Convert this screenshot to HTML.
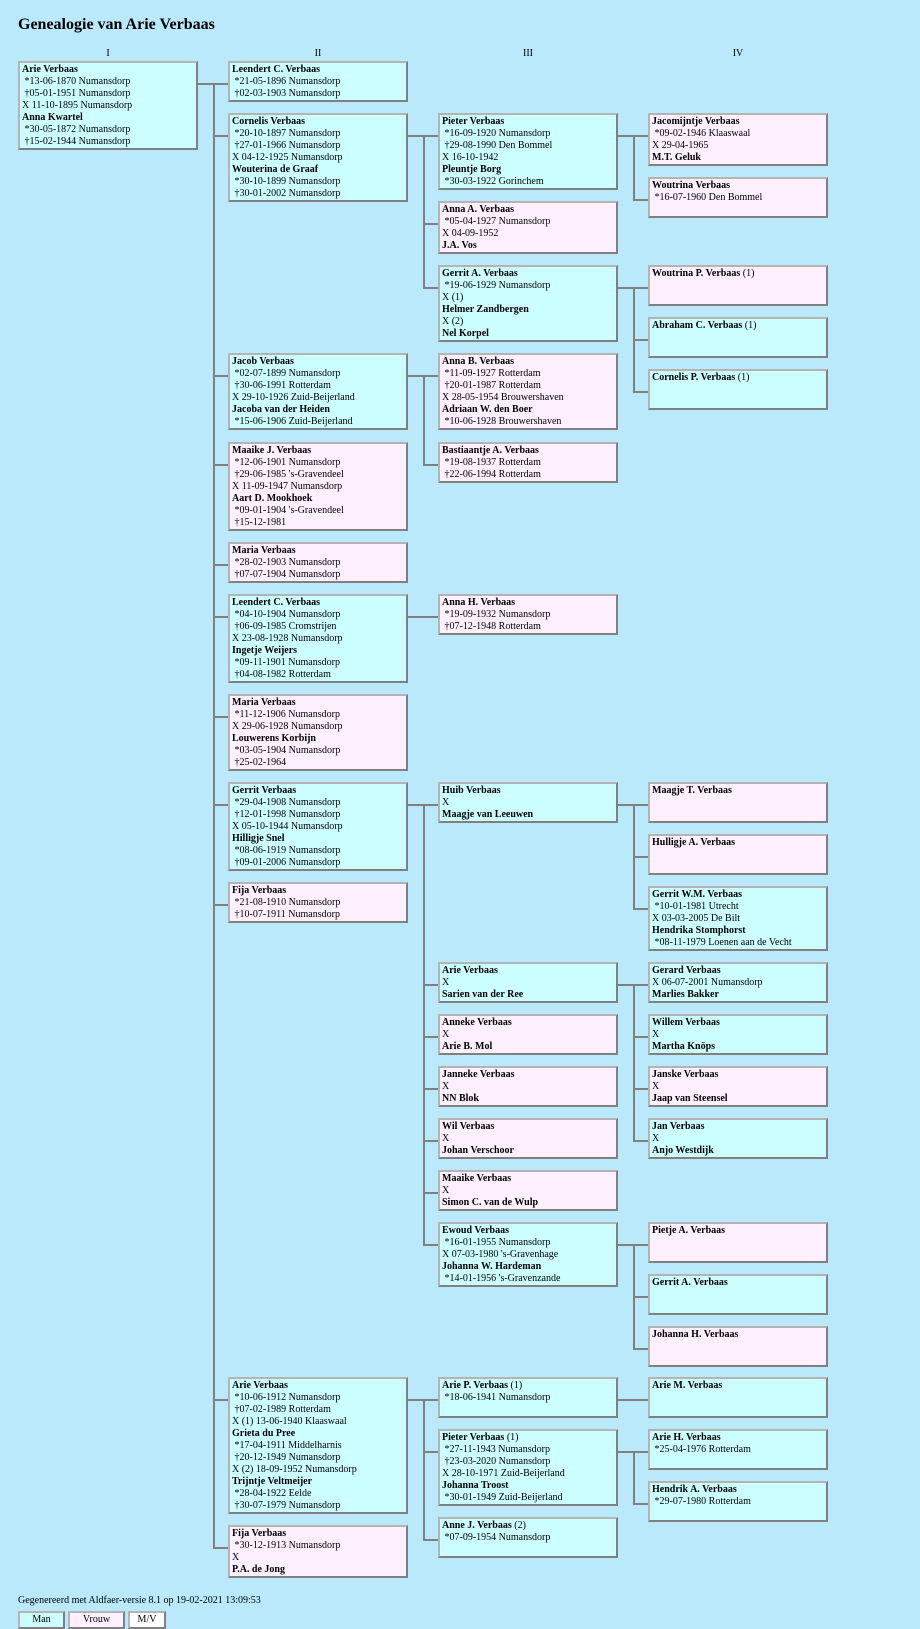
<!DOCTYPE html>
<html><head><meta charset="utf-8">
<style>
html,body{margin:0;padding:0}
body{width:920px;height:1629px;background:#b9e9fb;position:relative;overflow:hidden;font:10px/12px "Liberation Serif",serif;color:#000}
.t{position:absolute;left:18px;top:16px;font:bold 16px "Liberation Serif",serif}
.c{position:absolute;top:48px;width:180px;text-align:center}
.b{position:absolute;width:180px;box-sizing:border-box;border:2px solid;border-color:#b4b4b4 #808080 #808080 #b4b4b4;padding:1px 2px 0 2px;white-space:nowrap;overflow:hidden}
.m{background:#ccffff}.w{background:#fff0ff}
.b b{font-weight:bold}
.h{position:absolute;height:2px;background:#808080}
.l{position:absolute;width:2px;background:#808080}
.ft{position:absolute;left:18px;top:1595px}
.lg{position:absolute;top:1611px;height:18px;box-sizing:border-box;border:2px solid;border-color:#b4b4b4 #808080 #808080 #b4b4b4;text-align:center;line-height:13px}
</style></head><body>
<div class="t">Genealogie van Arie Verbaas</div>
<div class="c" style="left:18px">I</div>
<div class="c" style="left:228px">II</div>
<div class="c" style="left:438px">III</div>
<div class="c" style="left:648px">IV</div>

<!-- Col I -->
<div class="b m" style="left:18px;top:61px;height:89px"><b>Arie Verbaas</b><br>&nbsp;*13-06-1870 Numansdorp<br>&nbsp;†05-01-1951 Numansdorp<br>X 11-10-1895 Numansdorp<br><b>Anna Kwartel</b><br>&nbsp;*30-05-1872 Numansdorp<br>&nbsp;†15-02-1944 Numansdorp</div>

<!-- Col II -->
<div class="b m" style="left:228px;top:61px;height:41px"><b>Leendert C. Verbaas</b><br>&nbsp;*21-05-1896 Numansdorp<br>&nbsp;†02-03-1903 Numansdorp</div>
<div class="b m" style="left:228px;top:113px;height:89px"><b>Cornelis Verbaas</b><br>&nbsp;*20-10-1897 Numansdorp<br>&nbsp;†27-01-1966 Numansdorp<br>X 04-12-1925 Numansdorp<br><b>Wouterina de Graaf</b><br>&nbsp;*30-10-1899 Numansdorp<br>&nbsp;†30-01-2002 Numansdorp</div>
<div class="b m" style="left:228px;top:353px;height:77px"><b>Jacob Verbaas</b><br>&nbsp;*02-07-1899 Numansdorp<br>&nbsp;†30-06-1991 Rotterdam<br>X 29-10-1926 Zuid-Beijerland<br><b>Jacoba van der Heiden</b><br>&nbsp;*15-06-1906 Zuid-Beijerland</div>
<div class="b w" style="left:228px;top:442px;height:89px"><b>Maaike J. Verbaas</b><br>&nbsp;*12-06-1901 Numansdorp<br>&nbsp;†29-06-1985 's-Gravendeel<br>X 11-09-1947 Numansdorp<br><b>Aart D. Mookhoek</b><br>&nbsp;*09-01-1904 's-Gravendeel<br>&nbsp;†15-12-1981</div>
<div class="b w" style="left:228px;top:542px;height:41px"><b>Maria Verbaas</b><br>&nbsp;*28-02-1903 Numansdorp<br>&nbsp;†07-07-1904 Numansdorp</div>
<div class="b m" style="left:228px;top:594px;height:89px"><b>Leendert C. Verbaas</b><br>&nbsp;*04-10-1904 Numansdorp<br>&nbsp;†06-09-1985 Cromstrijen<br>X 23-08-1928 Numansdorp<br><b>Ingetje Weijers</b><br>&nbsp;*09-11-1901 Numansdorp<br>&nbsp;†04-08-1982 Rotterdam</div>
<div class="b w" style="left:228px;top:694px;height:77px"><b>Maria Verbaas</b><br>&nbsp;*11-12-1906 Numansdorp<br>X 29-06-1928 Numansdorp<br><b>Louwerens Korbijn</b><br>&nbsp;*03-05-1904 Numansdorp<br>&nbsp;†25-02-1964</div>
<div class="b m" style="left:228px;top:782px;height:89px"><b>Gerrit Verbaas</b><br>&nbsp;*29-04-1908 Numansdorp<br>&nbsp;†12-01-1998 Numansdorp<br>X 05-10-1944 Numansdorp<br><b>Hilligje Snel</b><br>&nbsp;*08-06-1919 Numansdorp<br>&nbsp;†09-01-2006 Numansdorp</div>
<div class="b w" style="left:228px;top:882px;height:41px"><b>Fija Verbaas</b><br>&nbsp;*21-08-1910 Numansdorp<br>&nbsp;†10-07-1911 Numansdorp</div>
<div class="b m" style="left:228px;top:1377px;height:137px"><b>Arie Verbaas</b><br>&nbsp;*10-06-1912 Numansdorp<br>&nbsp;†07-02-1989 Rotterdam<br>X (1) 13-06-1940 Klaaswaal<br><b>Grieta du Pree</b><br>&nbsp;*17-04-1911 Middelharnis<br>&nbsp;†20-12-1949 Numansdorp<br>X (2) 18-09-1952 Numansdorp<br><b>Trijntje Veltmeijer</b><br>&nbsp;*28-04-1922 Eelde<br>&nbsp;†30-07-1979 Numansdorp</div>
<div class="b w" style="left:228px;top:1525px;height:53px"><b>Fija Verbaas</b><br>&nbsp;*30-12-1913 Numansdorp<br>X<br><b>P.A. de Jong</b></div>

<!-- Col III -->
<div class="b m" style="left:438px;top:113px;height:77px"><b>Pieter Verbaas</b><br>&nbsp;*16-09-1920 Numansdorp<br>&nbsp;†29-08-1990 Den Bommel<br>X 16-10-1942<br><b>Pleuntje Borg</b><br>&nbsp;*30-03-1922 Gorinchem</div>
<div class="b w" style="left:438px;top:201px;height:53px"><b>Anna A. Verbaas</b><br>&nbsp;*05-04-1927 Numansdorp<br>X 04-09-1952<br><b>J.A. Vos</b></div>
<div class="b m" style="left:438px;top:265px;height:77px"><b>Gerrit A. Verbaas</b><br>&nbsp;*19-06-1929 Numansdorp<br>X (1)<br><b>Helmer Zandbergen</b><br>X (2)<br><b>Nel Korpel</b></div>
<div class="b w" style="left:438px;top:353px;height:77px"><b>Anna B. Verbaas</b><br>&nbsp;*11-09-1927 Rotterdam<br>&nbsp;†20-01-1987 Rotterdam<br>X 28-05-1954 Brouwershaven<br><b>Adriaan W. den Boer</b><br>&nbsp;*10-06-1928 Brouwershaven</div>
<div class="b w" style="left:438px;top:442px;height:41px"><b>Bastiaantje A. Verbaas</b><br>&nbsp;*19-08-1937 Rotterdam<br>&nbsp;†22-06-1994 Rotterdam</div>
<div class="b w" style="left:438px;top:594px;height:41px"><b>Anna H. Verbaas</b><br>&nbsp;*19-09-1932 Numansdorp<br>&nbsp;†07-12-1948 Rotterdam</div>
<div class="b m" style="left:438px;top:782px;height:41px"><b>Huib Verbaas</b><br>X<br><b>Maagje van Leeuwen</b></div>
<div class="b m" style="left:438px;top:962px;height:41px"><b>Arie Verbaas</b><br>X<br><b>Sarien van der Ree</b></div>
<div class="b w" style="left:438px;top:1014px;height:41px"><b>Anneke Verbaas</b><br>X<br><b>Arie B. Mol</b></div>
<div class="b w" style="left:438px;top:1066px;height:41px"><b>Janneke Verbaas</b><br>X<br><b>NN Blok</b></div>
<div class="b w" style="left:438px;top:1118px;height:41px"><b>Wil Verbaas</b><br>X<br><b>Johan Verschoor</b></div>
<div class="b w" style="left:438px;top:1170px;height:41px"><b>Maaike Verbaas</b><br>X<br><b>Simon C. van de Wulp</b></div>
<div class="b m" style="left:438px;top:1222px;height:65px"><b>Ewoud Verbaas</b><br>&nbsp;*16-01-1955 Numansdorp<br>X 07-03-1980 's-Gravenhage<br><b>Johanna W. Hardeman</b><br>&nbsp;*14-01-1956 's-Gravenzande</div>
<div class="b m" style="left:438px;top:1377px;height:41px"><b>Arie P. Verbaas</b> (1)<br>&nbsp;*18-06-1941 Numansdorp</div>
<div class="b m" style="left:438px;top:1429px;height:77px"><b>Pieter Verbaas</b> (1)<br>&nbsp;*27-11-1943 Numansdorp<br>&nbsp;†23-03-2020 Numansdorp<br>X 28-10-1971 Zuid-Beijerland<br><b>Johanna Troost</b><br>&nbsp;*30-01-1949 Zuid-Beijerland</div>
<div class="b m" style="left:438px;top:1517px;height:41px"><b>Anne J. Verbaas</b> (2)<br>&nbsp;*07-09-1954 Numansdorp</div>

<!-- Col IV -->
<div class="b w" style="left:648px;top:113px;height:53px"><b>Jacomijntje Verbaas</b><br>&nbsp;*09-02-1946 Klaaswaal<br>X 29-04-1965<br><b>M.T. Geluk</b></div>
<div class="b w" style="left:648px;top:177px;height:41px"><b>Woutrina Verbaas</b><br>&nbsp;*16-07-1960 Den Bommel</div>
<div class="b w" style="left:648px;top:265px;height:41px"><b>Woutrina P. Verbaas</b> (1)</div>
<div class="b m" style="left:648px;top:317px;height:41px"><b>Abraham C. Verbaas</b> (1)</div>
<div class="b m" style="left:648px;top:369px;height:41px"><b>Cornelis P. Verbaas</b> (1)</div>
<div class="b w" style="left:648px;top:782px;height:41px"><b>Maagje T. Verbaas</b></div>
<div class="b w" style="left:648px;top:834px;height:41px"><b>Hulligje A. Verbaas</b></div>
<div class="b m" style="left:648px;top:886px;height:65px"><b>Gerrit W.M. Verbaas</b><br>&nbsp;*10-01-1981 Utrecht<br>X 03-03-2005 De Bilt<br><b>Hendrika Stomphorst</b><br>&nbsp;*08-11-1979 Loenen aan de Vecht</div>
<div class="b m" style="left:648px;top:962px;height:41px"><b>Gerard Verbaas</b><br>X 06-07-2001 Numansdorp<br><b>Marlies Bakker</b></div>
<div class="b m" style="left:648px;top:1014px;height:41px"><b>Willem Verbaas</b><br>X<br><b>Martha Knöps</b></div>
<div class="b w" style="left:648px;top:1066px;height:41px"><b>Janske Verbaas</b><br>X<br><b>Jaap van Steensel</b></div>
<div class="b m" style="left:648px;top:1118px;height:41px"><b>Jan Verbaas</b><br>X<br><b>Anjo Westdijk</b></div>
<div class="b w" style="left:648px;top:1222px;height:41px"><b>Pietje A. Verbaas</b></div>
<div class="b m" style="left:648px;top:1274px;height:41px"><b>Gerrit A. Verbaas</b></div>
<div class="b w" style="left:648px;top:1326px;height:41px"><b>Johanna H. Verbaas</b></div>
<div class="b m" style="left:648px;top:1377px;height:41px"><b>Arie M. Verbaas</b></div>
<div class="b m" style="left:648px;top:1429px;height:41px"><b>Arie H. Verbaas</b><br>&nbsp;*25-04-1976 Rotterdam</div>
<div class="b m" style="left:648px;top:1481px;height:41px"><b>Hendrik A. Verbaas</b><br>&nbsp;*29-07-1980 Rotterdam</div>

<!-- Connectors I -> II -->
<div class="h" style="left:198px;top:83px;width:30px"></div>
<div class="l" style="left:213px;top:83px;height:1466px"></div>
<div class="h" style="left:213px;top:135px;width:15px"></div>
<div class="h" style="left:213px;top:375px;width:15px"></div>
<div class="h" style="left:213px;top:464px;width:15px"></div>
<div class="h" style="left:213px;top:564px;width:15px"></div>
<div class="h" style="left:213px;top:616px;width:15px"></div>
<div class="h" style="left:213px;top:716px;width:15px"></div>
<div class="h" style="left:213px;top:804px;width:15px"></div>
<div class="h" style="left:213px;top:904px;width:15px"></div>
<div class="h" style="left:213px;top:1399px;width:15px"></div>
<div class="h" style="left:213px;top:1547px;width:15px"></div>

<!-- II -> III -->
<div class="h" style="left:408px;top:135px;width:30px"></div>
<div class="l" style="left:423px;top:135px;height:154px"></div>
<div class="h" style="left:423px;top:223px;width:15px"></div>
<div class="h" style="left:423px;top:287px;width:15px"></div>

<div class="h" style="left:408px;top:375px;width:30px"></div>
<div class="l" style="left:423px;top:375px;height:91px"></div>
<div class="h" style="left:423px;top:464px;width:15px"></div>

<div class="h" style="left:408px;top:616px;width:30px"></div>

<div class="h" style="left:408px;top:804px;width:30px"></div>
<div class="l" style="left:423px;top:804px;height:442px"></div>
<div class="h" style="left:423px;top:984px;width:15px"></div>
<div class="h" style="left:423px;top:1036px;width:15px"></div>
<div class="h" style="left:423px;top:1088px;width:15px"></div>
<div class="h" style="left:423px;top:1140px;width:15px"></div>
<div class="h" style="left:423px;top:1192px;width:15px"></div>
<div class="h" style="left:423px;top:1244px;width:15px"></div>

<div class="h" style="left:408px;top:1399px;width:30px"></div>
<div class="l" style="left:423px;top:1399px;height:142px"></div>
<div class="h" style="left:423px;top:1451px;width:15px"></div>
<div class="h" style="left:423px;top:1539px;width:15px"></div>

<!-- III -> IV -->
<div class="h" style="left:618px;top:135px;width:30px"></div>
<div class="l" style="left:633px;top:135px;height:66px"></div>
<div class="h" style="left:633px;top:199px;width:15px"></div>

<div class="h" style="left:618px;top:287px;width:30px"></div>
<div class="l" style="left:633px;top:287px;height:106px"></div>
<div class="h" style="left:633px;top:339px;width:15px"></div>
<div class="h" style="left:633px;top:391px;width:15px"></div>

<div class="h" style="left:618px;top:804px;width:30px"></div>
<div class="l" style="left:633px;top:804px;height:106px"></div>
<div class="h" style="left:633px;top:856px;width:15px"></div>
<div class="h" style="left:633px;top:908px;width:15px"></div>

<div class="h" style="left:618px;top:984px;width:30px"></div>
<div class="l" style="left:633px;top:984px;height:158px"></div>
<div class="h" style="left:633px;top:1036px;width:15px"></div>
<div class="h" style="left:633px;top:1088px;width:15px"></div>
<div class="h" style="left:633px;top:1140px;width:15px"></div>

<div class="h" style="left:618px;top:1244px;width:30px"></div>
<div class="l" style="left:633px;top:1244px;height:106px"></div>
<div class="h" style="left:633px;top:1296px;width:15px"></div>
<div class="h" style="left:633px;top:1348px;width:15px"></div>

<div class="h" style="left:618px;top:1399px;width:30px"></div>

<div class="h" style="left:618px;top:1451px;width:30px"></div>
<div class="l" style="left:633px;top:1451px;height:54px"></div>
<div class="h" style="left:633px;top:1503px;width:15px"></div>

<div class="ft">Gegenereerd met Aldfaer-versie 8.1 op 19-02-2021 13:09:53</div>
<div class="lg m" style="left:18px;width:47px">Man</div>
<div class="lg w" style="left:68px;width:57px">Vrouw</div>
<div class="lg" style="left:128px;width:38px;background:#fff">M/V</div>
</body></html>
